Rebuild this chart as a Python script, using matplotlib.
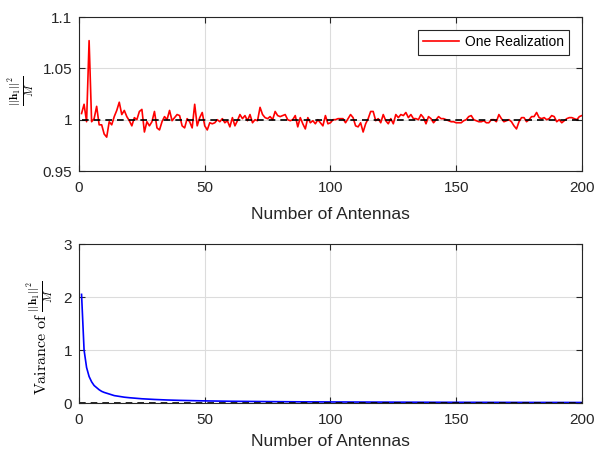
import numpy as np
import matplotlib
matplotlib.use("Agg")
import matplotlib.pyplot as plt

# one realization of ||h_1||^2 / M, M = 1..200
realization = [
    1.006, 1.015, 0.998, 1.077, 0.998, 1.001, 1.013, 0.995, 0.995, 0.986,
    0.983, 0.998, 0.995, 1.003, 1.009, 1.017, 1.005, 1.009, 1.003, 0.999,
    0.994, 1.002, 1.000, 1.008, 1.010, 0.988, 0.998, 0.994, 0.998, 1.008,
    0.992, 0.990, 0.998, 1.003, 1.000, 1.009, 0.999, 1.002, 1.005, 1.004,
    0.994, 0.992, 1.001, 0.998, 0.992, 1.015, 0.994, 1.002, 1.007, 0.994,
    0.990, 0.997, 0.996, 0.997, 1.000, 0.998, 1.001, 0.997, 0.999, 0.993,
    1.002, 0.994, 0.999, 1.005, 1.001, 1.004, 0.999, 1.005, 0.997, 1.000,
    0.999, 1.012, 1.005, 1.002, 1.001, 1.003, 1.000, 1.008, 1.004, 1.003,
    1.004, 1.005, 1.000, 0.999, 1.000, 1.004, 0.993, 1.002, 0.996, 0.991,
    1.002, 0.997, 0.999, 0.996, 1.000, 0.997, 0.994, 1.004, 0.996, 0.997,
    1.000, 1.000, 1.001, 1.001, 1.001, 0.997, 1.001, 1.005, 1.002, 0.994,
    0.993, 0.997, 0.988, 0.996, 1.001, 1.008, 1.008, 0.999, 1.001, 0.997,
    1.005, 0.999, 0.996, 1.001, 0.996, 1.005, 1.002, 1.005, 1.004, 1.007,
    1.002, 1.005, 1.001, 1.001, 1.000, 1.005, 1.002, 0.996, 1.003, 1.001,
    0.997, 1.000, 1.003, 1.001, 1.001, 1.000, 0.999, 0.998, 0.998, 0.997,
    0.997, 0.997, 0.999, 1.000, 1.003, 1.004, 1.000, 0.999, 0.998, 0.998,
    0.999, 0.997, 0.997, 1.000, 1.000, 0.998, 1.005, 1.001, 0.998, 0.999,
    1.000, 0.998, 0.994, 0.991, 0.998, 1.002, 1.002, 0.998, 1.000, 1.003,
    1.003, 1.007, 1.002, 1.001, 1.002, 1.000, 1.001, 1.004, 1.003, 0.998,
    1.000, 0.997, 0.999, 1.001, 1.002, 1.002, 1.001, 1.000, 1.003, 1.004,
]
antennas = list(range(1, len(realization) + 1))

# variance of ||h_1||^2 / M
var_antennas = [1, 2, 3, 4, 5, 6, 7, 8, 9, 10, 12, 14, 16, 18, 20, 25, 30,
                35, 40, 50, 60, 70, 80, 90, 100, 120, 140, 160, 180, 200]
var_values = [2.05, 1.0, 0.67, 0.5, 0.40, 0.33, 0.29, 0.25, 0.22, 0.20,
              0.17, 0.14, 0.125, 0.11, 0.10, 0.08, 0.067, 0.057, 0.05, 0.04,
              0.033, 0.029, 0.025, 0.022, 0.02, 0.017, 0.014, 0.0125, 0.011,
              0.01]

plt.rcParams["font.family"] = ["Liberation Sans", "DejaVu Sans"]
plt.rcParams["mathtext.fontset"] = "cm"

AX_COL = "#262626"


def _style(ax):
    for s in ax.spines.values():
        s.set_color(AX_COL)
        s.set_linewidth(0.8)
    ax.tick_params(direction="in", length=4, width=0.8, colors=AX_COL,
                   labelsize=11, top=True, right=True)
    ax.tick_params(axis="x", pad=7)
    ax.tick_params(axis="y", pad=5)
    ax.tick_params(labeltop=False, labelright=False)
    ax.grid(True, color="#dcdcdc", lw=0.8)
    ax.set_axisbelow(True)


fig = plt.figure(figsize=(6.08, 4.51), dpi=100)
ax1 = fig.add_axes([0.130, 0.6208, 0.827, 0.3415])
ax2 = fig.add_axes([0.130, 0.1064, 0.827, 0.3525])

# top panel
ax1.plot(antennas, realization, color="red", lw=1.2, label="One Realization")
ax1.plot([antennas[0], antennas[-1]], [1, 1], color="k", lw=1.2, ls="--",
         dashes=(4, 3))
ax1.set_xlim(0, 200)
ax1.set_ylim(0.95, 1.1)
ax1.set_xticks([0, 50, 100, 150, 200])
ax1.set_yticks([0.95, 1.0, 1.05, 1.1])
ax1.set_yticklabels(["0.95", "1", "1.05", "1.1"])
ax1.set_xlabel("Number of Antennas", fontsize=12.5, color=AX_COL, labelpad=9)
ax1.text(-0.113, 0.52, r"$\frac{||\mathbf{h}_1||^2}{M}$", fontsize=11.5,
         rotation=90, ha="center", va="center", transform=ax1.transAxes)
_style(ax1)
leg = ax1.legend(loc="upper right", fontsize=10, fancybox=False,
                 framealpha=1, edgecolor=AX_COL, handlelength=2.6,
                 borderaxespad=0.9, handletextpad=0.4)
leg.get_frame().set_linewidth(0.8)

# bottom panel
ax2.plot(var_antennas, var_values, color="blue", lw=1.2)
ax2.plot([0, 200], [0, 0], color="k", lw=1.2, ls="--", dashes=(4, 3))
ax2.set_xlim(0, 200)
ax2.set_ylim(0, 3)
ax2.set_xticks([0, 50, 100, 150, 200])
ax2.set_yticks([0, 1, 2, 3])
ax2.set_xlabel("Number of Antennas", fontsize=12.5, color=AX_COL, labelpad=5)
ax2.text(-0.076, 0.41,
         r"$\mathrm{Vairance\ of\ }\frac{||\mathbf{h}_1||^2}{M}$",
         fontsize=11.5, rotation=90, ha="center", va="center",
         transform=ax2.transAxes)
_style(ax2)

fig.savefig("out.png", dpi=100)
